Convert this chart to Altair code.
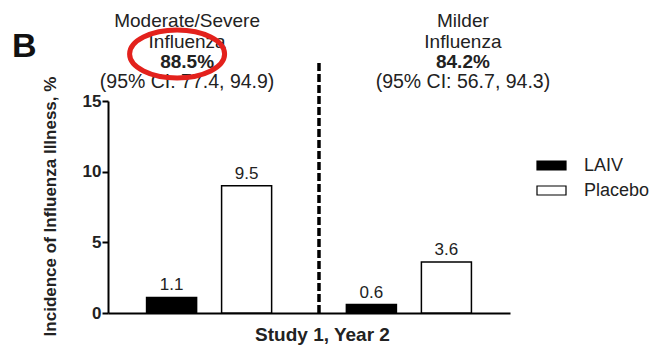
import altair as alt
import pandas as pd

# ---- data ----
groups = ["Moderate/Severe", "Moderate/Severe", "Milder", "Milder"]
treatments = ["LAIV", "Placebo", "LAIV", "Placebo"]
incidence = [1.1, 9.0, 0.6, 3.6]          # drawn bar heights
value_labels = ["1.1", "9.5", "0.6", "3.6"]  # printed values

group_order = ["Moderate/Severe", "Milder"]
treatment_order = ["LAIV", "Placebo"]
header_lines = ["Moderate/Severe\nInfluenza", "Milder\nInfluenza"]
efficacy = ["88.5%", "84.2%"]
ci_text = ["(95% CI: 77.4, 94.9)", "(95% CI: 56.7, 94.3)"]
y_ticks = [0, 5, 10, 15]

FONT = "Liberation Sans"
INK = "#222222"
header_shift = [-22, 54]

df = pd.DataFrame({"group": groups, "treatment": treatments,
                   "incidence": incidence, "label": value_labels})

x_scale = alt.Scale(domain=group_order, paddingInner=0.1, paddingOuter=0.056)
x_axis = alt.Axis(labels=False, ticks=False, domainColor="black", domainWidth=2,
                  title="Study 1, Year 2", titleFont=FONT, titleFontSize=19,
                  titleFontWeight="bold", titleColor=INK, titleX=214, titleY=27,
                  titleAlign="center", titleBaseline="alphabetic")
x_enc = alt.X("group:N", sort=group_order, scale=x_scale, axis=x_axis)
x_plain = alt.X("group:N", sort=group_order, scale=x_scale)
xoff = alt.XOffset("treatment:N", sort=treatment_order,
                   scale=alt.Scale(domain=treatment_order, paddingInner=0.333, paddingOuter=0.365))
y_enc = alt.Y("incidence:Q", scale=alt.Scale(domain=[0, 15], nice=False),
              axis=alt.Axis(values=y_ticks, grid=False, domainColor="black", domainWidth=2,
                            tickColor="black", tickWidth=2, tickSize=6, labelPadding=1,
                            labelFont=FONT, labelFontSize=17, labelFontWeight="bold",
                            labelColor=INK, labelBaseline="middle",
                            title="Incidence of Influenza Illness, %", titleFont=FONT,
                            titleFontSize=17, titleFontWeight="bold", titleColor=INK,
                            titleX=-53, titleY=105, titleAngle=270, titleAlign="center",
                            titleBaseline="alphabetic"))

RECT = "M-1,-0.31 L1,-0.31 L1,0.31 L-1,0.31 Z"
ELLIPSE = ("M-1,0 C-1,-0.279 -0.552,-0.505 0,-0.505 C0.552,-0.505 1,-0.279 1,0 "
           "C1,0.279 0.552,0.505 0,0.505 C-0.552,0.505 -1,0.279 -1,0 Z")

bars = alt.Chart(df).mark_bar(stroke="black", strokeWidth=1.5).encode(
    x=x_enc, xOffset=xoff, y=y_enc,
    fill=alt.Fill("treatment:N", sort=treatment_order,
                  scale=alt.Scale(domain=treatment_order, range=["black", "white"]),
                  legend=alt.Legend(title=None, orient="none", legendX=428, legendY=49,
                                    symbolType=RECT, symbolSize=841,
                                    symbolStrokeColor="black", symbolStrokeWidth=1.2,
                                    labelFont=FONT, labelFontSize=18, labelColor=INK,
                                    labelOffset=17, rowPadding=-6, padding=0)),
)

bar_text = alt.Chart(df).mark_text(baseline="alphabetic", dy=-7, font=FONT,
                                   fontSize=17, color=INK).encode(
    x=x_plain, xOffset=xoff, y=alt.Y("incidence:Q"), text="label:N")

sep = alt.Chart(pd.DataFrame({"group": ["Milder"]})).mark_rule(
    color="black", strokeWidth=3.5, strokeDash=[8, 3]).encode(
    x=alt.X("group:N", sort=group_order, scale=x_scale, bandPosition=0),
    y=alt.value(-38), y2=alt.value(212))

layers = [bars, bar_text, sep]
for i, g in enumerate(group_order):
    hdf = pd.DataFrame({"group": [g], "head": [header_lines[i]],
                        "eff": [efficacy[i]], "ci": [ci_text[i]]})
    base = alt.Chart(hdf)
    layers.append(base.mark_text(dx=header_shift[i], baseline="alphabetic", lineBreak="\n",
                                 lineHeight=20.5, font=FONT, fontSize=19, color=INK)
                  .encode(x=x_plain, y=alt.value(-74), text="head:N"))
    layers.append(base.mark_text(dx=header_shift[i], baseline="alphabetic", font=FONT,
                                 fontSize=19, fontWeight="bold", color=INK)
                  .encode(x=x_plain, y=alt.value(-33), text="eff:N"))
    layers.append(base.mark_text(dx=header_shift[i], baseline="alphabetic", font=FONT,
                                 fontSize=19.5, color=INK)
                  .encode(x=x_plain, y=alt.value(-13), text="ci:N"))

ellipse = alt.Chart(pd.DataFrame({"group": ["Moderate/Severe"]})).mark_point(
    shape=ELLIPSE, size=9025, filled=False, stroke="#e3211c", strokeWidth=5,
    opacity=1, xOffset=-32).encode(x=x_plain, y=alt.value(-47))

panel = alt.Chart(pd.DataFrame({"tag": ["B"]})).mark_text(
    align="left", baseline="alphabetic", font=FONT, fontSize=34, fontWeight="bold",
    color="#111111").encode(x=alt.value(-96), y=alt.value(-44), text="tag:N")

layers += [ellipse, panel]

chart = alt.layer(*layers).properties(
    width=402, height=212,
    autosize=alt.AutoSizeParams(type="none"),
    padding={"left": 100, "top": 93, "right": 141, "bottom": 37},
    background="white",
).configure_view(stroke=None)

chart.save("out.html", embed_options={"renderer": "svg", "actions": False})
